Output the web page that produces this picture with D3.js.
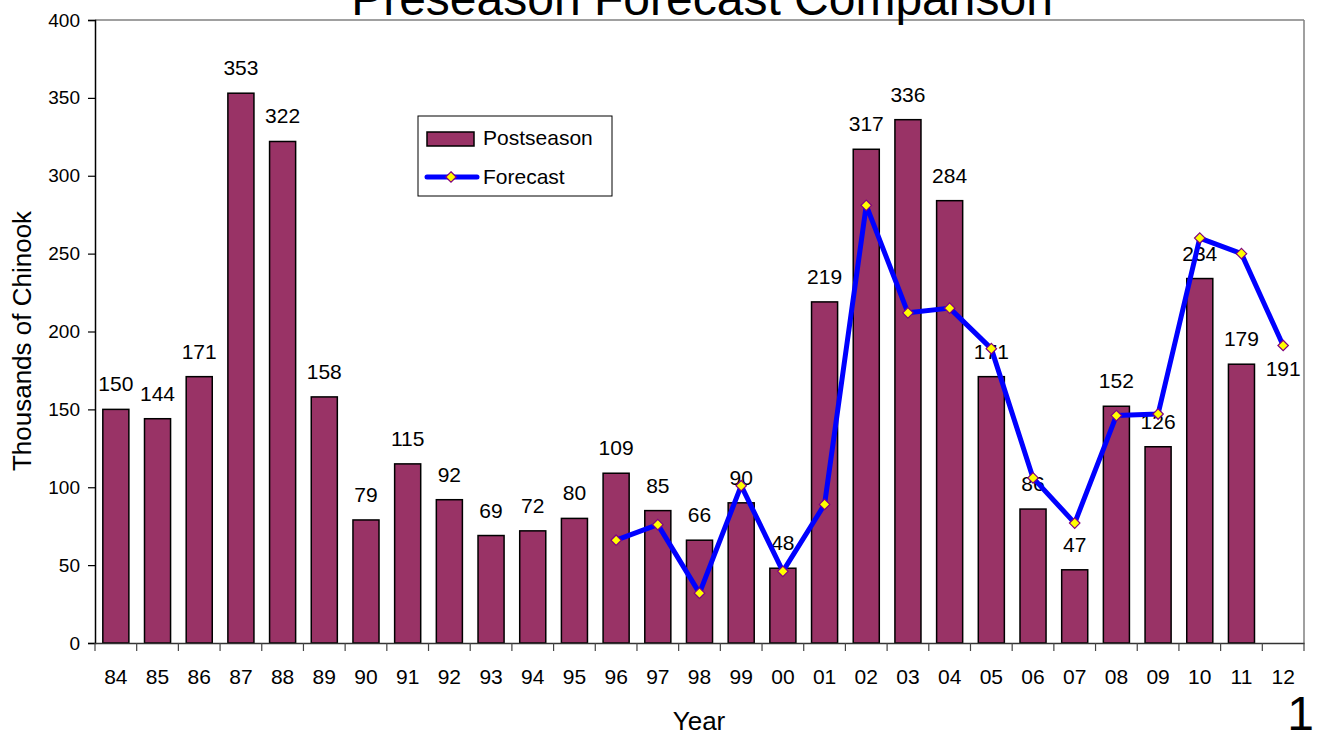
<!DOCTYPE html>
<html>
<head>
<meta charset="utf-8">
<script src="https://cdn.jsdelivr.net/npm/d3@7"></script>
<style>
  html, body { margin: 0; padding: 0; background: #fff; }
  svg { display: block; font-family: Arial, "Liberation Sans", sans-serif; }
</style>
</head>
<body>
<svg id="chart" width="1319" height="735"></svg>
<script>
const categories = ["84","85","86","87","88","89","90","91","92","93","94","95","96","97","98","99","00","01","02","03","04","05","06","07","08","09","10","11","12"];
const postseason = [150,144,171,353,322,158,79,115,92,69,72,80,109,85,66,90,48,219,317,336,284,171,86,47,152,126,234,179,null];
const forecast   = [null,null,null,null,null,null,null,null,null,null,null,null,66,76,32,101,46,89,281,212,215,189,106,77,146,147,260,250,191];
const forecastLabels = [null,null,null,null,null,null,null,null,null,null,null,null,null,null,null,null,null,null,null,null,null,null,null,null,null,null,null,null,"191"];
const yTicks = [0,50,100,150,200,250,300,350,400];
const titleText = "Preseason Forecast Comparison";
const yTitle = "Thousands of Chinook";
const xTitle = "Year";
const seriesNames = ["Postseason","Forecast"];

const svg = d3.select("#chart");
const pL = 95, pR = 1304, pT = 20, pB = 643;

const x = d3.scaleBand().domain(categories).range([pL, pR]).paddingInner(0.375).paddingOuter(0.1875);
const y = d3.scaleLinear().domain([0, 400]).range([pB, pT]);
const step = x.step();

// plot border (gray top & right)
svg.append("line").attr("x1", pL).attr("x2", pR).attr("y1", pT).attr("y2", pT).attr("stroke", "#808080").attr("stroke-width", 1.5);
svg.append("line").attr("x1", pR).attr("x2", pR).attr("y1", pT).attr("y2", pB).attr("stroke", "#808080").attr("stroke-width", 1.5);

// bars
const barData = categories.map((c, i) => ({c, v: postseason[i]})).filter(d => d.v != null);
svg.append("g").selectAll("rect").data(barData).join("rect")
  .attr("x", d => x(d.c))
  .attr("y", d => y(d.v))
  .attr("width", x.bandwidth())
  .attr("height", d => y(0) - y(d.v))
  .attr("fill", "#993366")
  .attr("stroke", "#000")
  .attr("stroke-width", 1.5);

// bar labels
svg.append("g").selectAll("text").data(barData).join("text")
  .attr("x", d => x(d.c) + x.bandwidth() / 2)
  .attr("y", d => y(d.v) - 18)
  .attr("text-anchor", "middle")
  .attr("font-size", 21)
  .attr("fill", "#000")
  .text(d => d.v);

// y axis
const yAxis = d3.axisLeft(y).tickValues(yTicks).tickSize(7).tickPadding(8);
const gy = svg.append("g").attr("transform", `translate(${pL},0)`).call(yAxis);
gy.select(".domain").attr("stroke", "#000").attr("stroke-width", 1.5);
gy.selectAll(".tick line").attr("stroke", "#000").attr("stroke-width", 1.2);
gy.selectAll(".tick text").attr("font-size", 19).attr("font-family", "Arial, 'Liberation Sans', sans-serif").attr("fill", "#000");

// x axis
const xAxis = d3.axisBottom(x).tickSize(0).tickPadding(0);
const gx = svg.append("g").attr("transform", `translate(0,${pB})`).call(xAxis);
gx.select(".domain").attr("stroke", "#333").attr("stroke-width", 1.5);
gx.selectAll(".tick text").attr("font-size", 21).attr("font-family", "Arial, 'Liberation Sans', sans-serif").attr("fill", "#000").attr("dy", 0).attr("y", 41);
// boundary ticks
const bounds = d3.range(categories.length + 1).map(i => pL + i * step);
svg.append("g").selectAll("line").data(bounds).join("line")
  .attr("x1", d => d).attr("x2", d => d)
  .attr("y1", pB).attr("y2", pB + 8)
  .attr("stroke", "#444").attr("stroke-width", 1.2);

// forecast line
const fData = categories.map((c, i) => ({c, v: forecast[i], lab: forecastLabels[i]})).filter(d => d.v != null);
const line = d3.line().x(d => x(d.c) + x.bandwidth() / 2).y(d => y(d.v));
svg.append("path").datum(fData)
  .attr("d", line)
  .attr("fill", "none")
  .attr("stroke", "#0000FF")
  .attr("stroke-width", 5)
  .attr("stroke-linejoin", "round");

const diamond = d3.symbol().type(d3.symbolDiamond2).size(70);
svg.append("g").selectAll("path").data(fData).join("path")
  .attr("transform", d => `translate(${x(d.c) + x.bandwidth() / 2},${y(d.v)})`)
  .attr("d", diamond)
  .attr("fill", "#FFFF00")
  .attr("stroke", "#800080")
  .attr("stroke-width", 1.2);

svg.append("g").selectAll("text").data(fData.filter(d => d.lab)).join("text")
  .attr("x", d => x(d.c) + x.bandwidth() / 2)
  .attr("y", d => y(d.v) + 30)
  .attr("text-anchor", "middle")
  .attr("font-size", 21)
  .text(d => d.lab);

// titles
svg.append("text").attr("x", 702).attr("y", 15).attr("text-anchor", "middle").attr("font-size", 48).text(titleText);
svg.append("text").attr("transform", "translate(31,341) rotate(-90)").attr("text-anchor", "middle").attr("font-size", 26).text(yTitle);
svg.append("text").attr("x", 699).attr("y", 730).attr("text-anchor", "middle").attr("font-size", 26).text(xTitle);
svg.append("text").attr("x", 1314).attr("y", 730).attr("text-anchor", "end").attr("font-size", 48).text("1");

// legend
const lg = svg.append("g");
lg.append("rect").attr("x", 418).attr("y", 116).attr("width", 194).attr("height", 80).attr("fill", "#fff").attr("stroke", "#000").attr("stroke-width", 1);
lg.append("rect").attr("x", 427).attr("y", 132).attr("width", 47).attr("height", 14).attr("fill", "#993366").attr("stroke", "#000").attr("stroke-width", 1.5);
lg.append("text").attr("x", 483).attr("y", 145).attr("font-size", 21).text(seriesNames[0]);
lg.append("line").attr("x1", 427).attr("x2", 477).attr("y1", 177).attr("y2", 177).attr("stroke", "#0000FF").attr("stroke-width", 5).attr("stroke-linecap", "round");
lg.append("path").attr("transform", "translate(451,177)").attr("d", diamond).attr("fill", "#FFFF00").attr("stroke", "#800080").attr("stroke-width", 1.2);
lg.append("text").attr("x", 483).attr("y", 184).attr("font-size", 21).text(seriesNames[1]);
</script>
</body>
</html>
